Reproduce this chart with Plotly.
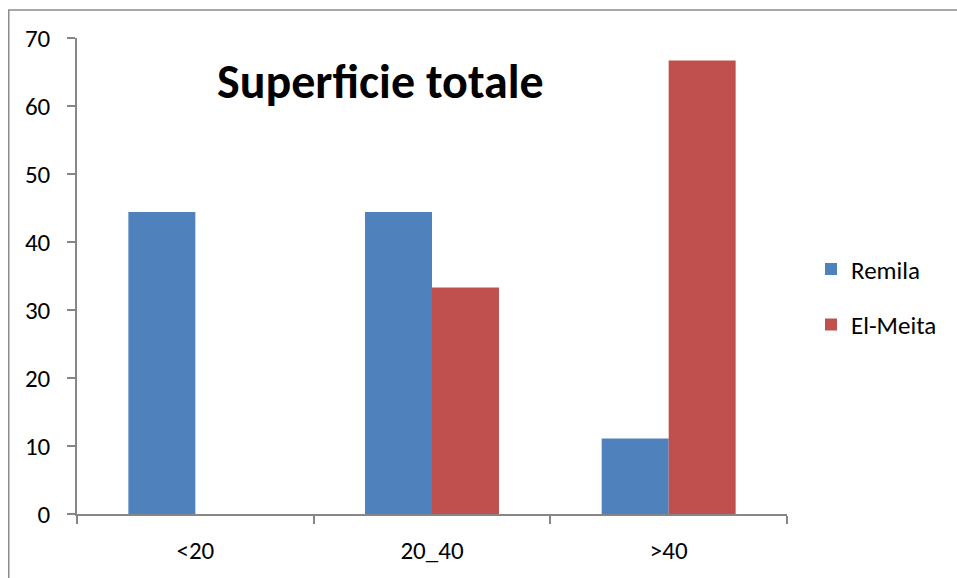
import plotly.graph_objects as go

categories = ["<20", "20_40", ">40"]
remila = [44.4, 44.4, 11.1]
el_meita = [0, 33.3, 66.7]
y_ticks = [0, 10, 20, 30, 40, 50, 60, 70]

FONT = "Carlito, Lato, 'Open Sans', sans-serif"

W, H = 957, 578
L, T = 77, 38
PW, PH = 710, 480
R, B = W - L - PW, H - T - PH

fig = go.Figure()
fig.add_trace(go.Bar(name="Remila", x=categories, y=remila, marker_color="#4F81BD",
                     marker_line_width=0, legendgroup="a"))
fig.add_trace(go.Bar(name="El-Meita", x=categories, y=el_meita, marker_color="#C0504D",
                     marker_line_width=0, legendgroup="b"))

fig.update_layout(
    width=W, height=H, autosize=False,
    margin=dict(l=L, r=R, t=T, b=B),
    paper_bgcolor="white", plot_bgcolor="white",
    barmode="group", bargap=0.434, bargroupgap=0,
    font=dict(family=FONT, size=25, color="#000000"),
    showlegend=True,
    legend=dict(x=(811 - L) / PW, y=1 - (299 - T) / PH, xanchor="left", yanchor="middle",
                traceorder="grouped", tracegroupgap=20,
                font=dict(size=25), itemwidth=30),
    xaxis=dict(type="category", range=[-0.5, 2.5], showline=True, linecolor="#868686",
               linewidth=1.5, ticks="outside", tickson="boundaries", ticklen=8,
               tickcolor="#868686", tickwidth=1.5, showgrid=False, zeroline=False,
               ticklabelstandoff=13),
    yaxis=dict(range=[0, 70], tickvals=y_ticks, showline=True, linecolor="#868686",
               linewidth=1.5, ticks="outside", ticklen=8, tickcolor="#868686",
               tickwidth=1.5, showgrid=False, zeroline=False, ticklabelstandoff=12),
    annotations=[dict(text="<b>Superficie totale</b>", xref="paper", yref="paper",
                      x=(380 - L) / PW, y=1 - (82 - T) / PH, xanchor="center",
                      yanchor="middle", showarrow=False,
                      font=dict(family=FONT, size=48, color="#000000"))],
    shapes=[dict(type="rect", xref="paper", yref="paper",
                 x0=(8.75 - L) / PW, x1=(W + 40 - L) / PW,
                 y0=-(B + 40) / PH, y1=1 + (T - 9.75) / PH,
                 line=dict(color="#8C8C8C", width=1.5), fillcolor="rgba(0,0,0,0)",
                 layer="below")],
)

fig.write_html(
    "out.html",
    config={"responsive": False, "displayModeBar": False},
    post_script="document.body.style.margin='0';document.body.style.overflow='hidden';",
)
